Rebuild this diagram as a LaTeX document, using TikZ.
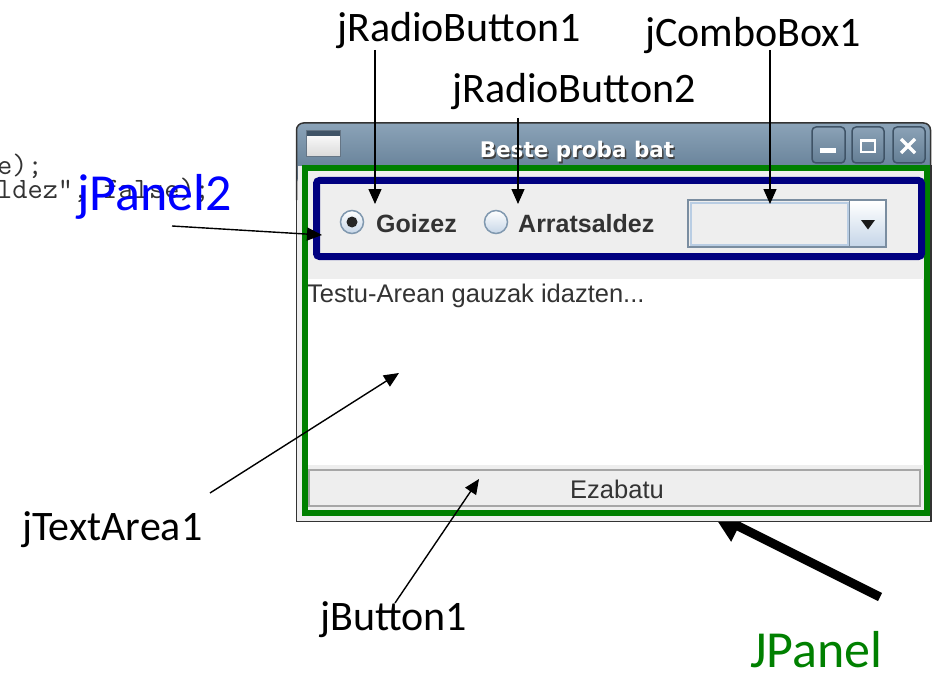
\documentclass[tikz,border=0pt]{standalone}
\usepackage{fontspec}
\setmainfont{Carlito}
\newfontfamily\uifont{Liberation Sans}
\newfontfamily\titlefont{DejaVu Sans}
\usetikzlibrary{arrows.meta}
\definecolor{jgreen}{HTML}{008000}
\definecolor{jblue}{HTML}{0000FF}
\definecolor{jnavy}{HTML}{000080}
\definecolor{panelgray}{HTML}{EEEEEE}
\definecolor{tbtop}{HTML}{8BA3B8}
\definecolor{tbbot}{HTML}{5C778F}
\definecolor{codegray}{HTML}{333333}
\definecolor{uitext}{HTML}{333333}
\definecolor{radioring}{HTML}{8098AF}
\definecolor{lightblue}{HTML}{C6D6E8}
\definecolor{btnborder}{HTML}{3F5366}
\definecolor{btntop}{HTML}{8BA2B7}
\definecolor{btnbot}{HTML}{647E94}
\definecolor{combobord}{HTML}{7A8DA0}
\definecolor{comboinner}{HTML}{B9CDE3}
\definecolor{shadowbeige}{HTML}{D8D4C8}
\begin{document}
\begin{tikzpicture}[x=1pt,y=-1pt,
  lbl/.style={anchor=base west, inner sep=0pt, font=\fontsize{42}{48}\selectfont},
  biglbl/.style={anchor=base west, inner sep=0pt, font=\fontsize{52}{60}\selectfont},
  thinarrow/.style={line width=1.4pt, -{Triangle[length=15pt,width=13pt]}},
  thickarrow/.style={line width=9pt, -{Triangle[length=30pt,width=32pt]}},
  codetext/.style={anchor=base west, inner sep=0pt, text=codegray, font=\fontsize{29.5}{32}\selectfont\ttfamily},
  uilabel/.style={anchor=base west, inner sep=0pt, text=uitext, font=\fontsize{25}{28}\selectfont\uifont\bfseries},
  uiplain/.style={inner sep=0pt, text=uitext, font=\fontsize{25.5}{28}\selectfont\uifont},
  winbtn/.style={draw=btnborder, line width=1.5pt, rounded corners=4pt, top color=btntop, bottom color=btnbot},
  radio/.style={circle, draw=radioring, line width=1.5pt, top color=white, bottom color=lightblue, minimum size=23pt, inner sep=0pt}
]
\useasboundingbox (0,0) rectangle (932,674);

% code fragment behind
\node[codetext] (code1) at (-3,175) {e);};
\node[codetext] (code2) at (-3,198) {ldez", false);};

% thick JPanel arrow (under the window)
\coordinate (jps) at (880,597);
\coordinate (jpt) at (712,513);
\draw[thickarrow] (jps) -- (jpt);

% window
\fill[shadowbeige] (297,515) rectangle (931,520);
\draw[line width=1.5pt, draw=black!80, fill=panelgray] (296.5,166) rectangle (931,521.5);
\shade[top color=tbtop, bottom color=tbbot, rounded corners=7pt] (297,123) rectangle (930.5,185);
\draw[black!80, line width=1.5pt, rounded corners=7pt] (296.5,200) -- (296.5,123) -- (930.5,123) -- (930.5,200);
\fill[panelgray] (297.5,166) rectangle (930,515);

% title bar icon
\shade[top color=white, bottom color=black!15] (306,131) rectangle (340,157);
\fill[btnborder] (306,131) rectangle (340,136);
\draw[btnborder!80, line width=1pt] (306,131) rectangle (340,157);

% title
\node[anchor=base, inner sep=0pt, text=black!75, font=\fontsize{21.5}{24}\selectfont\titlefont\bfseries] (titleshadow) at (578.5,159.5) {Beste proba bat};
\node[anchor=base, inner sep=0pt, text=white, font=\fontsize{21.5}{24}\selectfont\titlefont\bfseries] (title) at (577,158) {Beste proba bat};

% title bar buttons
\path[winbtn] (812,127) rectangle (845,163);
\path[winbtn] (852,127) rectangle (884,163);
\path[winbtn] (893,127) rectangle (925,163);
\fill[white] (820,148) rectangle (836,153);
\draw[white, line width=2.5pt] (861,140.5) rectangle (875,152);
\draw[white, line width=3.5pt] (901,139) -- (915,153) (915,139) -- (901,153);

% text area
\fill[white] (307.5,279) rectangle (924,465);
\draw[black!12, line width=1pt] (923.5,279) -- (923.5,465);
\node[uiplain, anchor=base west] (tatext) at (307,302) {Testu-Arean gauzak idazten...};

% button
\draw[fill=panelgray, draw=black!35, line width=1.5pt] (309,470) rectangle (920,506);
\node[uiplain, anchor=base] (btntext) at (617,498) {Ezabatu};

% JPanel (green) frame
\draw[jgreen, line width=6pt] (304.5,168) rectangle (926.5,512.5);

% jPanel2 (navy)
\draw[jnavy, line width=7pt, rounded corners=3pt, fill=panelgray] (316.5,180.5) rectangle (921.5,256.5);

% radio buttons
\node[radio] (radio1) at (352,222) {};
\fill[black!85] (radio1.center) circle[radius=5.5pt];
\node[uilabel] (goizez) at (376,232) {Goizez};
\node[radio] (radio2) at (496,222) {};
\node[uilabel] (arrats) at (518,232) {Arratsaldez};

% combo box
\fill[panelgray] (688,200) rectangle (886,247);
\draw[comboinner, line width=2pt] (690.5,202.5) rectangle (847.5,244.5);
\shade[top color=white, bottom color=lightblue] (849,201) rectangle (885.5,246);
\draw[combobord, line width=1pt] (849,200) -- (849,247);
\draw[combobord, line width=1.5pt] (688,200) rectangle (886,247);
\fill[black!90] (861,220) -- (875,220) -- (868,229.5) -- cycle;

% thin arrows
\coordinate (rb1s) at (375,50);   \coordinate (rb1t) at (375,204);
\coordinate (rb2s) at (518,118);  \coordinate (rb2t) at (518,204);
\coordinate (cbs)  at (770,50);   \coordinate (cbt)  at (770,204);
\coordinate (p2s)  at (172,226);  \coordinate (p2t)  at (322,235);
\coordinate (tas)  at (210,493);  \coordinate (tat)  at (399,373);
\coordinate (bts)  at (395,603);  \coordinate (btt)  at (479,479);
\draw[thinarrow] (rb1s) -- (rb1t);
\draw[thinarrow] (rb2s) -- (rb2t);
\draw[thinarrow] (cbs) -- (cbt);
\draw[thinarrow] (p2s) -- (p2t);
\draw[thinarrow] (tas) -- (tat);
\draw[thinarrow] (bts) -- (btt);

% labels
\node[lbl] (lrb1) at (337,42) {jRadioButton1};
\node[lbl] (lrb2) at (452,103) {jRadioButton2};
\node[lbl] (lcb) at (645,47) {jComboBox1};
\node[lbl] (lta) at (22,540) {jTextArea1};
\node[lbl] (lbt) at (320,630) {jButton1};
\node[biglbl, text=jblue] (lp2) at (77,210) {jPanel2};
\node[biglbl, text=jgreen] (ljp) at (750,667) {JPanel};
\end{tikzpicture}
\end{document}
